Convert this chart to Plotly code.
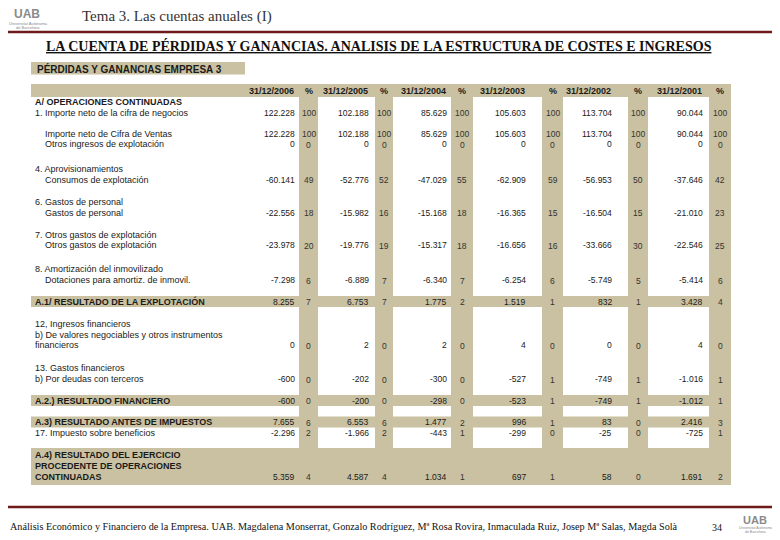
import plotly.graph_objects as go

# ---- datos (miles de euros) ----
fechas = ["31/12/2006", "31/12/2005", "31/12/2004", "31/12/2003", "31/12/2002", "31/12/2001"]

cifra_negocios = [122228, 102188, 85629, 105603, 113704, 90044]
cifra_negocios_pct = [100, 100, 100, 100, 100, 100]
cifra_ventas = [122228, 102188, 85629, 105603, 113704, 90044]
cifra_ventas_pct = [100, 100, 100, 100, 100, 100]
otros_ingresos = [0, 0, 0, 0, 0, 0]
otros_ingresos_pct = [0, 0, 0, 0, 0, 0]
consumos = [-60141, -52776, -47029, -62909, -56953, -37646]
consumos_pct = [49, 52, 55, 59, 50, 42]
gastos_personal = [-22556, -15982, -15168, -16365, -16504, -21010]
gastos_personal_pct = [18, 16, 18, 15, 15, 23]
otros_gastos = [-23978, -19776, -15317, -16656, -33666, -22546]
otros_gastos_pct = [20, 19, 18, 16, 30, 25]
amortizacion = [-7298, -6889, -6340, -6254, -5749, -5414]
amortizacion_pct = [6, 7, 7, 6, 5, 6]
res_explotacion = [8255, 6753, 1775, 1519, 832, 3428]
res_explotacion_pct = [7, 7, 2, 1, 1, 4]
ingresos_fin = [0, 2, 2, 4, 0, 4]
ingresos_fin_pct = [0, 0, 0, 0, 0, 0]
gastos_fin = [-600, -202, -300, -527, -749, -1016]
gastos_fin_pct = [0, 0, 0, 1, 1, 1]
res_financiero = [-600, -200, -298, -523, -749, -1012]
res_financiero_pct = [0, 0, 0, 1, 1, 1]
res_antes_imp = [7655, 6553, 1477, 996, 83, 2416]
res_antes_imp_pct = [6, 6, 2, 1, 0, 3]
impuesto = [-2296, -1966, -443, -299, -25, -725]
impuesto_pct = [2, 2, 1, 0, 0, 1]
res_ejercicio = [5359, 4587, 1034, 697, 58, 1691]
res_ejercicio_pct = [4, 4, 1, 1, 0, 2]

# (texto, valores, %, estilo, sangria, salto desde la fila anterior)
filas = [
    ("A/ OPERACIONES CONTINUADAS", None, None, "bold", 0, 11),
    ("1. Importe neto de la cifra de negocios", cifra_negocios, cifra_negocios_pct, "", 0, 11),
    ("Importe neto de Cifra de Ventas", cifra_ventas, cifra_ventas_pct, "", 1, 21),
    ("Otros ingresos de explotación", otros_ingresos, otros_ingresos_pct, "", 1, 10.5),
    ("4. Aprovisionamientos", None, None, "", 0, 25),
    ("Consumos de explotación", consumos, consumos_pct, "", 1, 10.5),
    ("6. Gastos de personal", None, None, "", 0, 22.5),
    ("Gastos de personal", gastos_personal, gastos_personal_pct, "", 1, 10.5),
    ("7. Otros gastos de explotación", None, None, "", 0, 22),
    ("Otros gastos de explotación", otros_gastos, otros_gastos_pct, "", 1, 10.5),
    ("8. Amortización del inmovilizado", None, None, "", 0, 24),
    ("Dotaciones para amortiz. de inmovil.", amortizacion, amortizacion_pct, "", 1, 11),
    ("A.1/ RESULTADO DE LA EXPLOTACIÓN", res_explotacion, res_explotacion_pct, "total", 0, 21.5),
    ("12, Ingresos financieros", None, None, "", 0, 22.5),
    ("b) De valores negociables y otros instrumentos", None, None, "", 0, 10.5),
    ("financieros", ingresos_fin, ingresos_fin_pct, "", 0, 10.5),
    ("13. Gastos financieros", None, None, "", 0, 23),
    ("b) Por deudas con terceros", gastos_fin, gastos_fin_pct, "", 0, 11),
    ("A.2.) RESULTADO FINANCIERO", res_financiero, res_financiero_pct, "total", 0, 21.5),
    ("A.3) RESULTADO ANTES DE IMPUESTOS", res_antes_imp, res_antes_imp_pct, "total", 0, 21.5),
    ("17. Impuesto sobre beneficios", impuesto, impuesto_pct, "", 0, 10.5),
    ("A.4) RESULTADO DEL EJERCICIO", None, None, "block", 0, 22),
    ("PROCEDENTE DE OPERACIONES", None, None, "block", 0, 11),
    ("CONTINUADAS", res_ejercicio, res_ejercicio_pct, "block", 0, 11),
]

# ---- geometria de la diapositiva ----
TAN = "#c9c1a1"
MAROON = "#6e1a1a"
GREY = "#8a8a8a"
SANS = "Liberation Sans, Arial, sans-serif"
SERIF = "Liberation Serif, Times New Roman, serif"
val_right = [297, 371, 449, 528, 614, 705]
pct_strip = [(299, 318), (375, 393), (451, 473), (542, 563), (628, 648), (709, 731)]
TX0, TX1 = 31, 731
HEAD_Y = 90.5
TABLE_BOTTOM = 485
PAGE_MARGIN = 8  # margen por defecto del <body> en la pagina html


def fmt(v):
    return f"{v:,}".replace(",", ".")


shapes = []
ann = []


def rect(x0, y0, x1, y1, color=TAN):
    shapes.append(dict(type="rect", xref="x", yref="y", x0=x0, x1=x1, y0=y0, y1=y1,
                       fillcolor=color, line_width=0, layer="below"))


def txt(x, y, s, size=9, anchor="left", bold=False, font=SANS, color="#1a1a1a"):
    ann.append(dict(x=x, y=y, xref="x", yref="y", text=f"<b>{s}</b>" if bold else s,
                    showarrow=False, xanchor=anchor, yanchor="middle",
                    font=dict(family=font, size=size, color=color)))


# cabecera de la tabla
rect(TX0, 62, 245, 74.5)
txt(35, 68.5, "PÉRDIDAS Y GANANCIAS EMPRESA 3", size=10, bold=True)
rect(TX0, 84, TX1, 97)
for (a, b) in pct_strip:
    rect(a, 84, b, TABLE_BOTTOM)

for i, f in enumerate(fechas):
    txt(val_right[i] - 1, HEAD_Y, f, bold=True, anchor="right")
    txt((pct_strip[i][0] + pct_strip[i][1]) / 2, HEAD_Y, "%", bold=True, anchor="center")

# filas
y = HEAD_Y
ys = []
for label, vals, pcts, estilo, sangria, dy in filas:
    y += dy
    ys.append(y)
    if estilo == "total":
        rect(TX0, y - 5.5, TX1, y + 5.5)
    bold = estilo in ("bold", "total", "block")
    txt(33 + 10 * sangria, y, label, bold=bold)
    if vals is not None:
        for i in range(6):
            txt(val_right[i], y, fmt(vals[i]), size=8.5, anchor="right")
            txt((pct_strip[i][0] + pct_strip[i][1]) / 2, y + 0.5, str(pcts[i]),
                size=8.5, anchor="center", color="#333333")

bloque = [yy for yy, f in zip(ys, filas) if f[3] == "block"]
rect(TX0, bloque[0] - 6.5, TX1, TABLE_BOTTOM)

# encabezado y pie de la diapositiva
shapes.append(dict(type="line", xref="x", yref="y", x0=PAGE_MARGIN, x1=780, y0=32, y1=32,
                   line=dict(color=MAROON, width=2.5)))
shapes.append(dict(type="line", xref="x", yref="y", x0=PAGE_MARGIN, x1=780, y0=507, y1=507,
                   line=dict(color=MAROON, width=2.5)))

txt(27, 14, "UAB", size=12, bold=True, anchor="center", color=GREY)
txt(28, 23, "Universitat Autònoma", size=4, anchor="center", color=GREY)
txt(28, 27, "de Barcelona", size=4, anchor="center", color=GREY)
txt(80, 16, "Tema 3. Las cuentas anuales (I)", size=15, font=SERIF, color="#333333")
txt(379, 46, "<u>LA CUENTA DE PÉRDIDAS Y GANANCIAS. ANALISIS DE LA ESTRUCTURA DE COSTES E INGRESOS</u>",
    size=14, bold=True, font=SERIF, anchor="center", color="#111111")

txt(344, 526, "Análisis Económico y Financiero de la Empresa. UAB. Magdalena Monserrat, Gonzalo Rodríguez, "
    "Mª Rosa Rovira, Inmaculada Ruiz, Josep Mª Salas, Magda Solà", size=10.2, font=SERIF,
    anchor="center", color="#111111")
txt(717, 527, "34", size=10, font=SERIF, anchor="center", color="#111111")
txt(755, 520, "UAB", size=11, bold=True, anchor="center", color=GREY)
txt(755, 528, "Universitat Autònoma", size=3.5, anchor="center", color=GREY)
txt(755, 532, "de Barcelona", size=3.5, anchor="center", color=GREY)

fig = go.Figure()
fig.add_trace(go.Scatter(x=[PAGE_MARGIN, 780], y=[PAGE_MARGIN, 540], mode="markers",
                         marker=dict(opacity=0), hoverinfo="skip", showlegend=False))
fig.update_layout(
    width=780 - PAGE_MARGIN, height=540 - PAGE_MARGIN, margin=dict(l=0, r=0, t=0, b=0),
    paper_bgcolor="white", plot_bgcolor="white",
    xaxis=dict(range=[PAGE_MARGIN, 780], visible=False, fixedrange=True),
    yaxis=dict(range=[540, PAGE_MARGIN], visible=False, fixedrange=True),
    shapes=shapes, annotations=ann,
)
fig.write_html("out.html")
